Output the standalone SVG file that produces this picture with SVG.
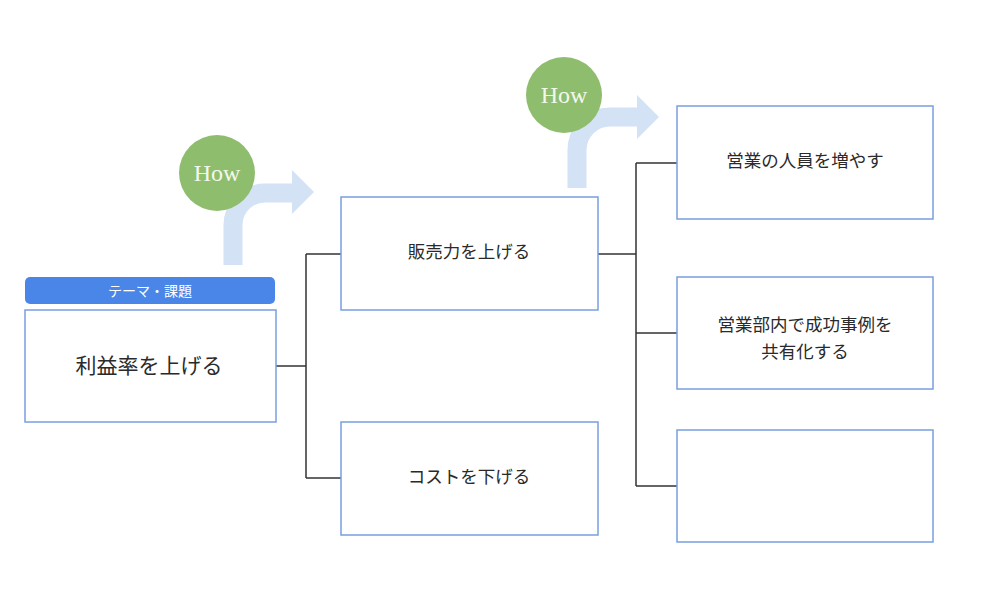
<svg xmlns="http://www.w3.org/2000/svg" width="1000" height="600" viewBox="0 0 1000 600">
<style>
.box{fill:#fff;stroke:#7a9fe0;stroke-width:1.5}
.t{font-family:"Liberation Sans","Noto Sans CJK JP",sans-serif;fill:#2a2a2a;text-anchor:middle;dominant-baseline:central;font-size:17.5px}
.ln{fill:none;stroke:#333;stroke-width:1.5}
.arr{fill:none;stroke:#d3e2f4;stroke-width:19}
.ah{fill:#d3e2f4}
.how{fill:#8fbd6e}
.ht{font-family:"Liberation Serif",serif;font-size:24px;fill:#f2f8ec;text-anchor:middle;dominant-baseline:central}
</style>
<rect width="1000" height="600" fill="#fff"/>
<g id="arrows">
<path class="arr" d="M233,265 V225 A32,32 0 0 1 265,193 H295"/>
<polygon class="ah" points="292,170 314,192 292,214"/>
<path class="arr" d="M577,188 V150 A33,33 0 0 1 610,117 H640"/>
<polygon class="ah" points="637,95 659,117 637,139"/>
</g>
<g id="how1"><circle class="how" cx="217" cy="173" r="38"/><text class="ht" x="217" y="173">How</text></g>
<g id="how2"><circle class="how" cx="564" cy="95" r="38"/><text class="ht" x="564" y="95">How</text></g>
<g id="connectors">
<path class="ln" d="M276,366 H306 M306,254 V478 M306,254 H341 M306,478 H341"/>
<path class="ln" d="M598,254 H636 M636,163 V486 M636,163 H677 M636,333 H677 M636,486 H677"/>
</g>
<g id="theme">
<rect x="25" y="277" width="250" height="27" rx="5" fill="#4a86e8"/>
<text class="t" x="150" y="291" style="fill:#fff;font-size:14px">テーマ・課題</text>
<rect class="box" x="25" y="310" width="251" height="112"/>
<text class="t" x="149" y="365" style="font-size:21px">利益率を上げる</text>
</g>
<g id="sales"><rect class="box" x="341" y="197" width="257" height="113"/><text class="t" x="469" y="252">販売力を上げる</text></g>
<g id="cost"><rect class="box" x="341" y="422" width="257" height="113"/><text class="t" x="469" y="477">コストを下げる</text></g>
<g id="staff"><rect class="box" x="677" y="106" width="256" height="113"/><text class="t" x="805" y="161">営業の人員を増やす</text></g>
<g id="share"><rect class="box" x="677" y="277" width="256" height="112"/><text class="t" x="805" y="325">営業部内で成功事例を</text><text class="t" x="805" y="352">共有化する</text></g>
<g id="empty"><rect class="box" x="677" y="430" width="256" height="112"/></g>
</svg>
